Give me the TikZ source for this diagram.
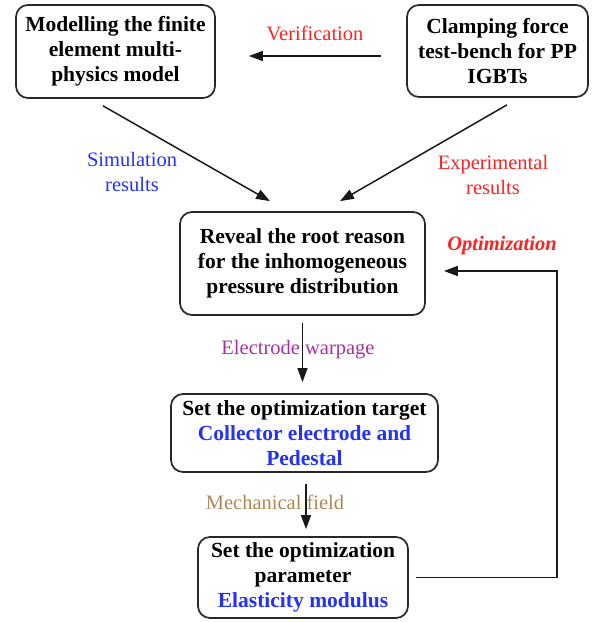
\documentclass[tikz,border=0pt]{standalone}
\usepackage{fontspec}
\setmainfont{Liberation Serif}
\usetikzlibrary{arrows.meta}
\definecolor{simblue}{RGB}{35,50,245}
\definecolor{expred}{RGB}{250,35,35}
\definecolor{warppurple}{RGB}{165,50,160}
\definecolor{mechbrown}{RGB}{175,135,85}
\definecolor{edge}{RGB}{40,40,40}
\tikzset{
  stepbox/.style={draw=edge, line width=1.7pt, rounded corners=12pt, align=center,
    font=\fontsize{21.5}{25}\selectfont\bfseries, inner sep=0pt},
  lbl/.style={align=center, font=\fontsize{20.5}{25}\selectfont},
  arr/.style={draw=black!90, line width=1.5pt, -{Triangle[length=14pt,width=10pt]}}
}
\begin{document}
\begin{tikzpicture}[x=1pt,y=-1pt]
\useasboundingbox (0,0) rectangle (593,622);

% process boxes
\node[stepbox, minimum width=199pt, minimum height=93pt] (model) at (115.5,51.5)
  {Modelling the finite\\element multi-\\physics model};
\node[stepbox, minimum width=181pt, minimum height=92pt] (bench) at (497.5,51)
  {Clamping force\\test-bench for PP\\IGBTs};
\node[stepbox, minimum width=245pt, minimum height=103pt] (reveal) at (302.5,263.5)
  {Reveal the root reason\\for the inhomogeneous\\pressure distribution};
\node[stepbox, minimum width=267pt, minimum height=78pt] (target) at (304.5,433)
  {Set the optimization target\\\textcolor{simblue}{Collector electrode and}\\\textcolor{simblue}{Pedestal}};
\node[stepbox, minimum width=210pt, minimum height=81pt] (param) at (303,577.5)
  {Set the optimization\\parameter\\\textcolor{simblue}{Elasticity modulus}};

% labels
\node[lbl, text=expred] (lver) at (315,33) {Verification};
\node[lbl, text=simblue] (lsim) at (132,172) {Simulation\\results};
\node[lbl, text=expred] (lexp) at (493,175) {Experimental\\results};
\node[lbl, text=expred, font=\fontsize{20.5}{25}\selectfont\bfseries\itshape] (lopt) at (502,246) {Optimization};
\node[lbl, text=warppurple] (lwarp) at (298,350) {Electrode warpage};
\node[lbl, text=mechbrown] (lmech) at (275,502) {Mechanical field};

% connectors
\draw[arr, shorten <=25pt, shorten >=33pt] ([yshift=-5pt]bench.west) -- ([yshift=-4.5pt]model.east);
\draw[arr] ([shift={(-12.5pt,-7pt)}]model.south) -- ([shift={(-32.5pt,10pt)}]reveal.north);
\draw[arr] ([shift={(9.5pt,-7pt)}]bench.south) -- ([shift={(37.5pt,10pt)}]reveal.north);
\draw[arr] ([yshift=-7pt]reveal.south) -- ([xshift=-2pt,yshift=11pt]target.north);
\draw[arr] ([shift={(1.5pt,-11pt)}]target.south) -- ([shift={(3pt,7pt)}]param.north);
\coordinate (fbturn) at (557,271);
\draw[arr, rounded corners=0pt, shorten <=7pt, shorten >=18pt] (param.east) -| (fbturn) -- ([yshift=-7.5pt]reveal.east);
\end{tikzpicture}
\end{document}
